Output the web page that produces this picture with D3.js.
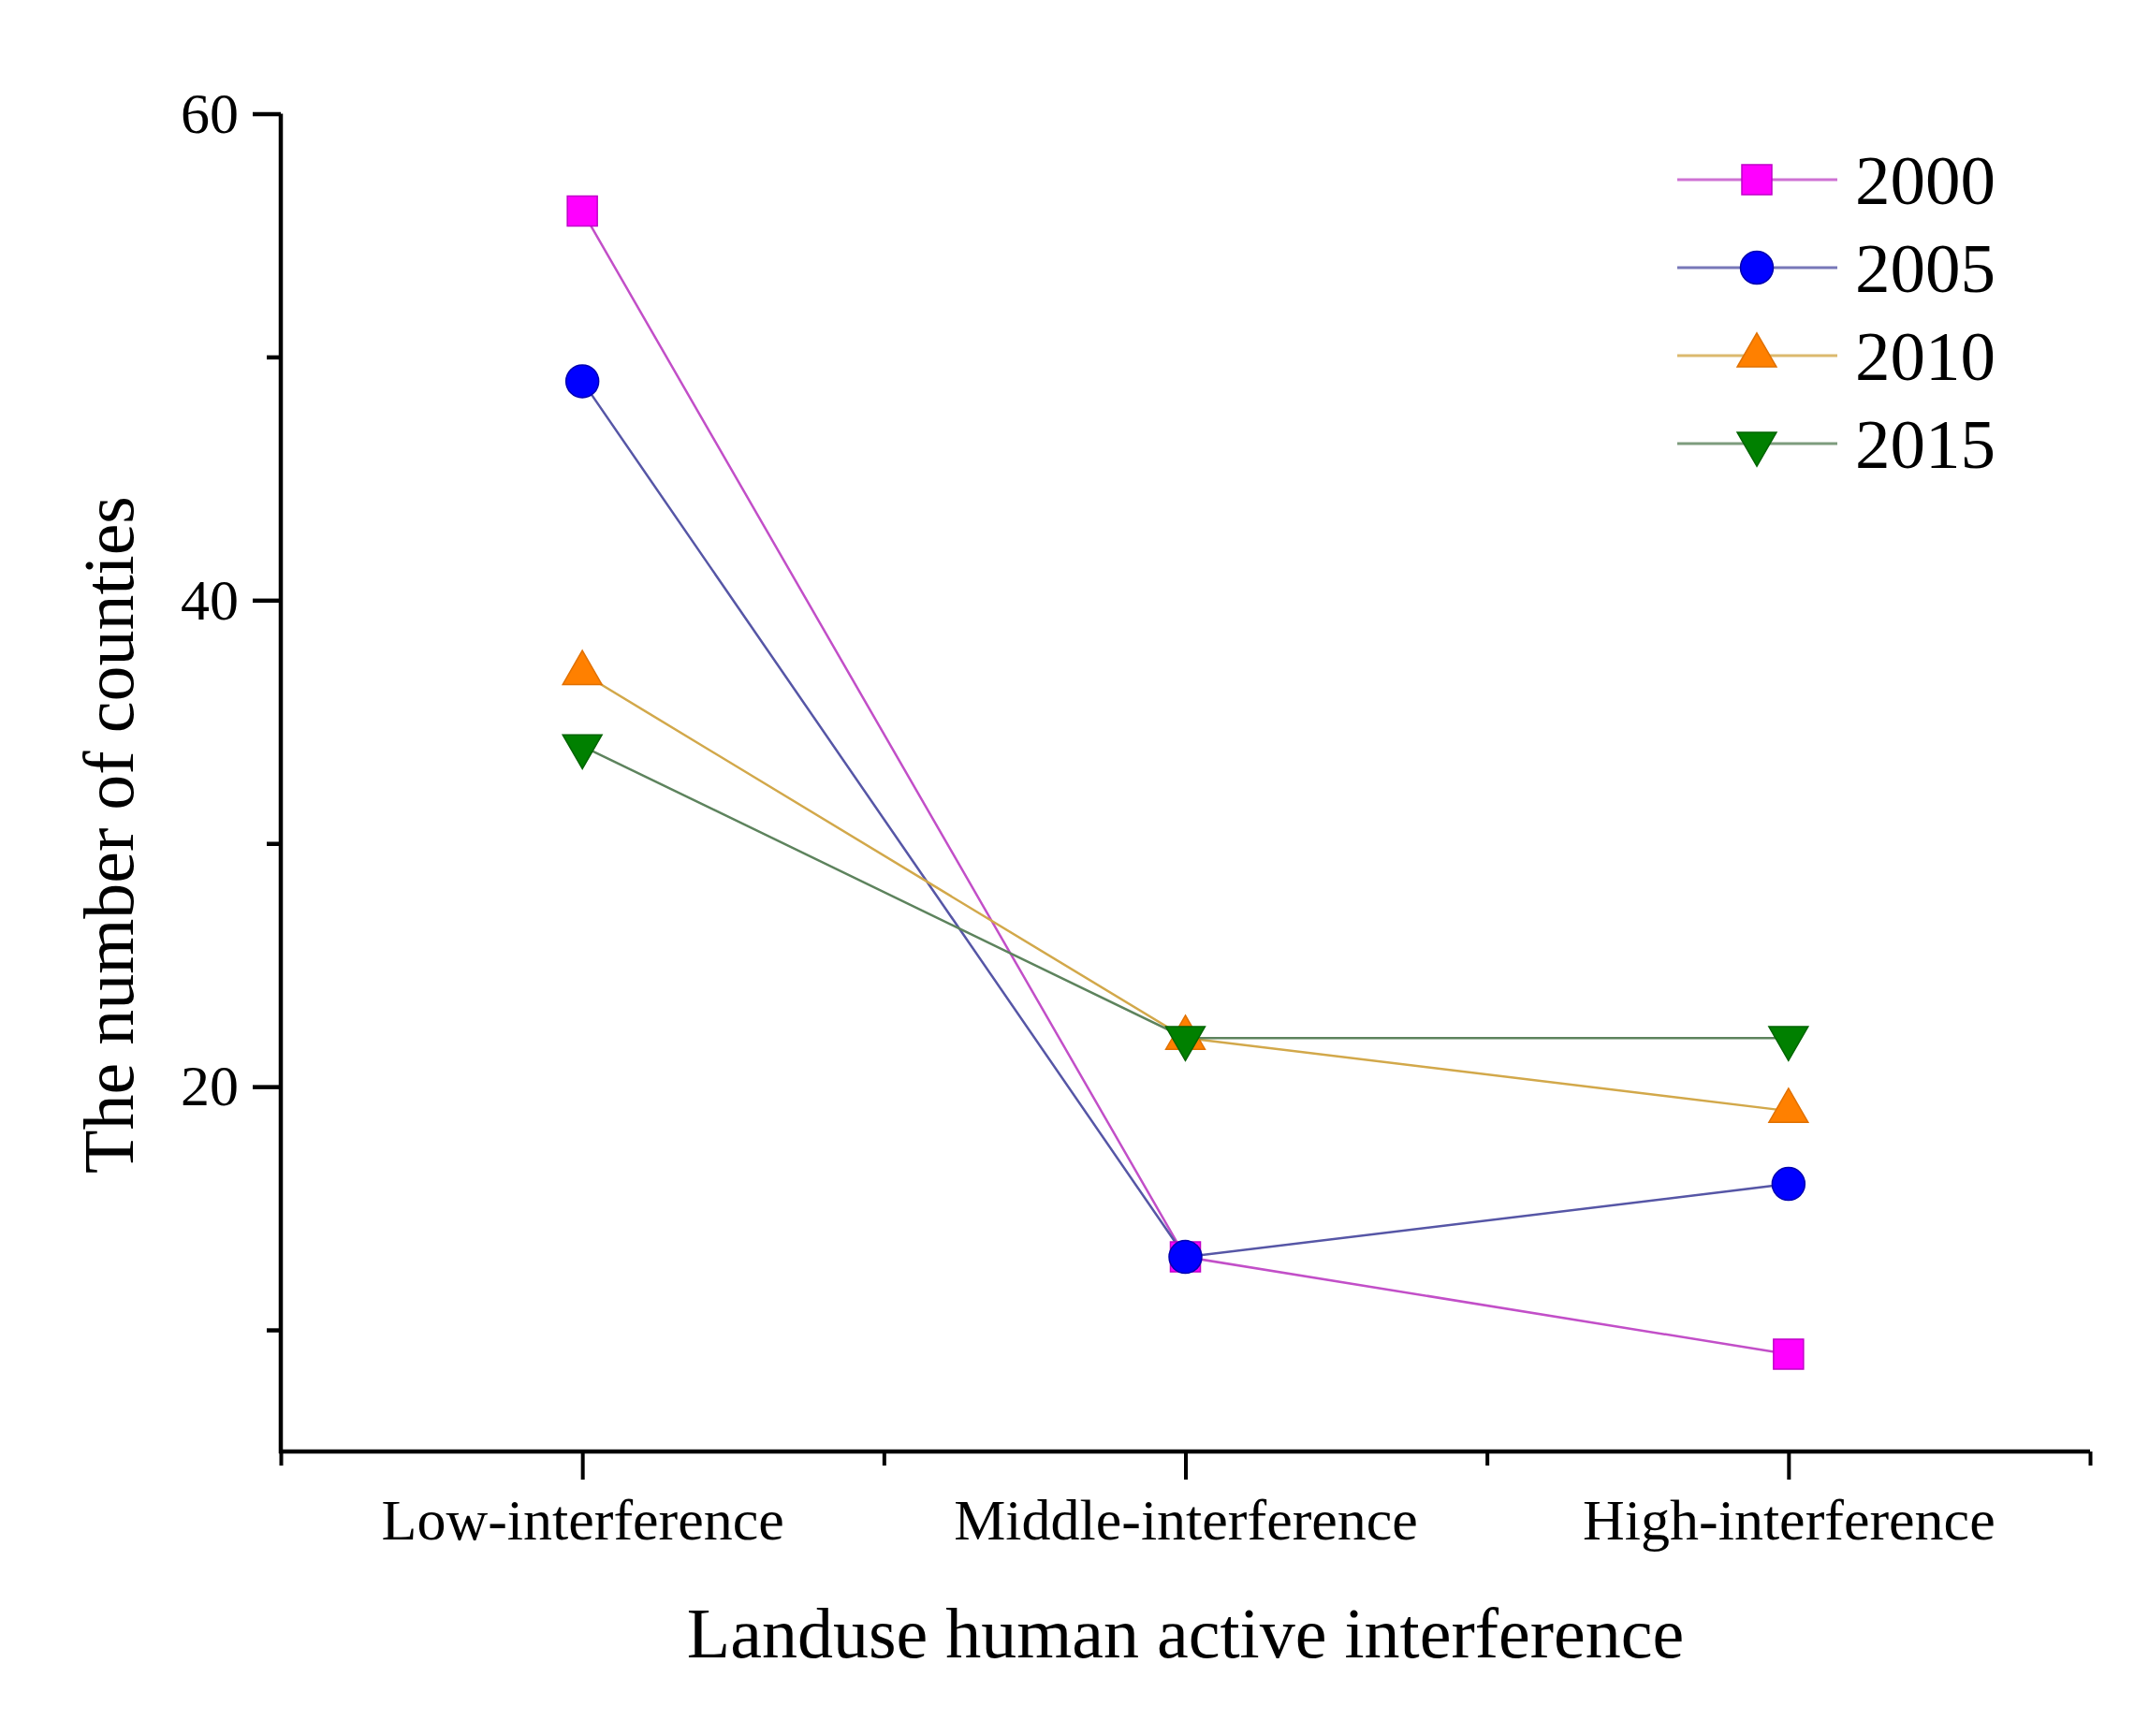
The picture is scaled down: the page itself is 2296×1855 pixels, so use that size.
<!DOCTYPE html>
<html>
<head>
<meta charset="utf-8">
<script src="https://cdn.jsdelivr.net/npm/d3@7"></script>
<style>
  body { margin: 0; background: #fff; }
  text { font-family: "Liberation Serif", "Times New Roman", serif; fill: #000; }
</style>
</head>
<body>
<svg id="chart" width="2296" height="1855"></svg>
<script>
// chart data
var categories = ["Low-interference", "Middle-interference", "High-interference"];
var years = ["2000", "2005", "2010", "2015"];
var v2000 = [56, 13, 9];
var v2005 = [49, 13, 16];
var v2010 = [37, 22, 19];
var v2015 = [34, 22, 22];
var yMajorTicks = [20, 40, 60];
var yMinorTicks = [10, 30, 50];

// one entry per year: values + look
var series = [
    { name: years[0], values: v2000, line: "#c24fc8", fill: "#ff00ff", edge: "#c000c8", shape: "square" },
    { name: years[1], values: v2005, line: "#5656a6", fill: "#0000ff", edge: "#0000b0", shape: "circle" },
    { name: years[2], values: v2010, line: "#d2a84a", fill: "#ff8000", edge: "#e07000", shape: "up" },
    { name: years[3], values: v2015, line: "#5d835d", fill: "#008000", edge: "#006400", shape: "down" }
];

var svg = d3.select("#chart");
svg.append("rect").attr("width", 2296).attr("height", 1855).attr("fill", "#fff");

// plot frame (note: "top" is taken by window.top, so prefix these)
var plotLeft = 300, plotRight = 2233, plotTop = 121.5, plotBottom = 1551;

var x = d3.scaleLinear().domain([0.5, 3.5]).range([plotLeft, plotRight]);
var y = d3.scaleLinear().domain([5, 60]).range([plotBottom, plotTop]);

// marker path for a given shape
function marker(shape){
    if(shape == "square") return d3.symbol().type(d3.symbolSquare).size(1024)();
    if(shape == "circle") return d3.symbol().type(d3.symbolCircle).size(960)();
    return d3.symbol().type(d3.symbolTriangle).size(760)();
}
function markerTransform(shape, px, py){
    return "translate(" + px + "," + py + ")" + (shape == "down" ? " rotate(180)" : "");
}

/* axes */
// y minor ticks (no labels)
svg.append("g")
    .attr("transform", "translate(" + plotLeft + ",0)")
    .call(d3.axisLeft(y).tickValues(yMinorTicks).tickSize(15).tickSizeOuter(0).tickFormat(""))
    .call(g => g.select(".domain").remove())
    .selectAll("line").attr("stroke", "#000").attr("stroke-width", 4.5);

// y major ticks
var yAxis = svg.append("g")
    .attr("transform", "translate(" + plotLeft + ",0)")
    .call(d3.axisLeft(y).tickValues(yMajorTicks).tickSize(30).tickSizeOuter(0).tickPadding(15));
yAxis.select(".domain").attr("stroke", "#000").attr("stroke-width", 4.5)
    .attr("d", "M0," + plotTop + "V" + (plotBottom + 2));
yAxis.selectAll("line").attr("stroke", "#000").attr("stroke-width", 4.5);
yAxis.selectAll("text").attr("font-size", 62).attr("font-family", "Liberation Serif");

// x minor ticks, between categories and at the ends
svg.append("g")
    .attr("transform", "translate(0," + plotBottom + ")")
    .call(d3.axisBottom(x).tickValues([0.5, 1.5, 2.5, 3.5]).tickSize(15).tickSizeOuter(0).tickFormat(""))
    .call(g => g.select(".domain").remove())
    .selectAll("line").attr("stroke", "#000").attr("stroke-width", 4);

// x major ticks with category names
var xAxis = svg.append("g")
    .attr("transform", "translate(0," + plotBottom + ")")
    .call(d3.axisBottom(x).tickValues([1, 2, 3]).tickSize(30).tickSizeOuter(0)
        .tickPadding(20).tickFormat(d => categories[d - 1]));
xAxis.select(".domain").attr("stroke", "#000").attr("stroke-width", 4.5)
    .attr("d", "M" + (plotLeft - 2) + ",0H" + plotRight);
xAxis.selectAll("line").attr("stroke", "#000").attr("stroke-width", 4);
xAxis.selectAll("text").attr("font-size", 62).attr("font-family", "Liberation Serif");

// axis titles
svg.append("text")
    .attr("x", x(2))
    .attr("y", 1771)
    .attr("text-anchor", "middle")
    .attr("font-size", 76)
    .text("Landuse human active interference");

svg.append("text")
    .attr("transform", "translate(142,892) rotate(-90)")
    .attr("text-anchor", "middle")
    .attr("font-size", 76)
    .text("The number of counties");

/* series */
var line = d3.line()
    .x((d, i) => x(i + 1))
    .y(d => y(d));

svg.append("g").attr("class", "lines")
    .selectAll("path")
    .data(series).enter()
    .append("path")
    .attr("d", d => line(d.values))
    .attr("fill", "none")
    .attr("stroke", d => d.line)
    .attr("stroke-width", 2.5);

var markers = svg.append("g").attr("class", "markers")
    .selectAll("g")
    .data(series).enter()
    .append("g");

markers.selectAll("path")
    .data(d => d.values.map((v, i) => ({ v: v, i: i, s: d })))
    .enter()
    .append("path")
    .attr("d", d => marker(d.s.shape))
    .attr("transform", d => markerTransform(d.s.shape, x(d.i + 1), y(d.v)))
    .attr("fill", d => d.s.fill)
    .attr("stroke", d => d.s.edge)
    .attr("stroke-width", 1.5);

/* legend */
var legend = svg.append("g").attr("class", "legend")
    .selectAll("g")
    .data(series).enter()
    .append("g")
    .attr("transform", (d, i) => "translate(0," + (192 + i * 94) + ")");

legend.append("line")
    .attr("x1", 1792).attr("x2", 1963)
    .attr("stroke", d => d.line)
    .attr("stroke-opacity", 0.8)
    .attr("stroke-width", 3);

legend.append("path")
    .attr("d", d => marker(d.shape))
    .attr("transform", d => markerTransform(d.shape, 1877, 0))
    .attr("fill", d => d.fill)
    .attr("stroke", d => d.edge)
    .attr("stroke-width", 1.5);

legend.append("text")
    .attr("x", 1982)
    .attr("y", 26)
    .attr("font-size", 75)
    .text(d => d.name);
</script>
</body>
</html>
